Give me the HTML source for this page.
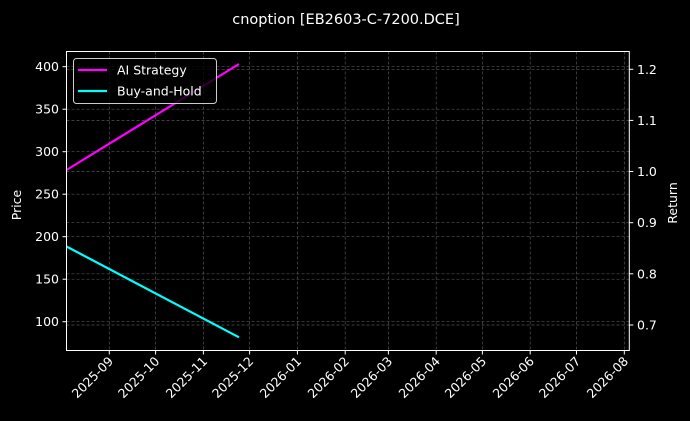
<!DOCTYPE html>
<html><head><meta charset="utf-8"><style>
html,body{margin:0;padding:0;background:#000;}
svg{display:block;font-family:"DejaVu Sans","Liberation Sans",sans-serif;}
</style></head><body>
<svg width="690" height="421" viewBox="0 0 690 421" xmlns="http://www.w3.org/2000/svg">
<rect width="690" height="421" fill="#000"/>
<text x="346" y="24" fill="#fff" font-size="14.5" text-anchor="middle">cnoption [EB2603-C-7200.DCE]</text>
<g stroke="#555" stroke-width="0.7" stroke-dasharray="3,2" fill="none">
<!-- vertical grid -->
<line x1="109.3" y1="51.5" x2="109.3" y2="350.5"/>
<line x1="155.6" y1="51.5" x2="155.6" y2="350.5"/>
<line x1="203.4" y1="51.5" x2="203.4" y2="350.5"/>
<line x1="249.6" y1="51.5" x2="249.6" y2="350.5"/>
<line x1="297.4" y1="51.5" x2="297.4" y2="350.5"/>
<line x1="345.2" y1="51.5" x2="345.2" y2="350.5"/>
<line x1="388.4" y1="51.5" x2="388.4" y2="350.5"/>
<line x1="436.2" y1="51.5" x2="436.2" y2="350.5"/>
<line x1="482.4" y1="51.5" x2="482.4" y2="350.5"/>
<line x1="530.2" y1="51.5" x2="530.2" y2="350.5"/>
<line x1="576.5" y1="51.5" x2="576.5" y2="350.5"/>
<line x1="624.3" y1="51.5" x2="624.3" y2="350.5"/>
<!-- left horizontal grid -->
<line x1="66.5" y1="66.7" x2="629.3" y2="66.7"/>
<line x1="66.5" y1="109.2" x2="629.3" y2="109.2"/>
<line x1="66.5" y1="151.7" x2="629.3" y2="151.7"/>
<line x1="66.5" y1="194.2" x2="629.3" y2="194.2"/>
<line x1="66.5" y1="236.7" x2="629.3" y2="236.7"/>
<line x1="66.5" y1="279.2" x2="629.3" y2="279.2"/>
<line x1="66.5" y1="321.7" x2="629.3" y2="321.7"/>
<!-- right horizontal grid -->
<line x1="66.5" y1="69.3" x2="629.3" y2="69.3"/>
<line x1="66.5" y1="120.4" x2="629.3" y2="120.4"/>
<line x1="66.5" y1="171.5" x2="629.3" y2="171.5"/>
<line x1="66.5" y1="222.7" x2="629.3" y2="222.7"/>
<line x1="66.5" y1="273.8" x2="629.3" y2="273.8"/>
<line x1="66.5" y1="325" x2="629.3" y2="325"/>
</g>
<!-- series -->
<line x1="66.5" y1="170" x2="239" y2="64" stroke="#ff00ff" stroke-width="2.2"/>
<line x1="66.5" y1="246.5" x2="239" y2="337.3" stroke="#00ffff" stroke-width="2.2"/>
<!-- axes box -->
<rect x="66.5" y="51.5" width="562.8" height="299" fill="none" stroke="#fff" stroke-width="1"/>
<!-- left ticks -->
<g stroke="#fff" stroke-width="1">
<line x1="62.5" y1="66.7" x2="66.5" y2="66.7"/>
<line x1="62.5" y1="109.2" x2="66.5" y2="109.2"/>
<line x1="62.5" y1="151.7" x2="66.5" y2="151.7"/>
<line x1="62.5" y1="194.2" x2="66.5" y2="194.2"/>
<line x1="62.5" y1="236.7" x2="66.5" y2="236.7"/>
<line x1="62.5" y1="279.2" x2="66.5" y2="279.2"/>
<line x1="62.5" y1="321.7" x2="66.5" y2="321.7"/>
<line x1="629.3" y1="69.3" x2="633.3" y2="69.3"/>
<line x1="629.3" y1="120.4" x2="633.3" y2="120.4"/>
<line x1="629.3" y1="171.5" x2="633.3" y2="171.5"/>
<line x1="629.3" y1="222.7" x2="633.3" y2="222.7"/>
<line x1="629.3" y1="273.8" x2="633.3" y2="273.8"/>
<line x1="629.3" y1="325" x2="633.3" y2="325"/>
<line x1="109.3" y1="350.5" x2="109.3" y2="354.5"/>
<line x1="155.6" y1="350.5" x2="155.6" y2="354.5"/>
<line x1="203.4" y1="350.5" x2="203.4" y2="354.5"/>
<line x1="249.6" y1="350.5" x2="249.6" y2="354.5"/>
<line x1="297.4" y1="350.5" x2="297.4" y2="354.5"/>
<line x1="345.2" y1="350.5" x2="345.2" y2="354.5"/>
<line x1="388.4" y1="350.5" x2="388.4" y2="354.5"/>
<line x1="436.2" y1="350.5" x2="436.2" y2="354.5"/>
<line x1="482.4" y1="350.5" x2="482.4" y2="354.5"/>
<line x1="530.2" y1="350.5" x2="530.2" y2="354.5"/>
<line x1="576.5" y1="350.5" x2="576.5" y2="354.5"/>
<line x1="624.3" y1="350.5" x2="624.3" y2="354.5"/>
</g>
<g fill="#fff" font-size="12.5" text-anchor="end">
<text x="59" y="71.2">400</text>
<text x="59" y="113.7">350</text>
<text x="59" y="156.2">300</text>
<text x="59" y="198.7">250</text>
<text x="59" y="241.2">200</text>
<text x="59" y="283.7">150</text>
<text x="59" y="326.2">100</text>
</g>
<g fill="#fff" font-size="12.5" text-anchor="start">
<text x="637" y="73.8">1.2</text>
<text x="637" y="124.9">1.1</text>
<text x="637" y="176">1.0</text>
<text x="637" y="227.2">0.9</text>
<text x="637" y="278.3">0.8</text>
<text x="637" y="329.5">0.7</text>
</g>
<g fill="#fff" font-size="12.5" text-anchor="end">
<text transform="translate(114,362) rotate(-45)">2025-09</text>
<text transform="translate(160.3,362) rotate(-45)">2025-10</text>
<text transform="translate(208.1,362) rotate(-45)">2025-11</text>
<text transform="translate(254.3,362) rotate(-45)">2025-12</text>
<text transform="translate(302.1,362) rotate(-45)">2026-01</text>
<text transform="translate(349.9,362) rotate(-45)">2026-02</text>
<text transform="translate(393.1,362) rotate(-45)">2026-03</text>
<text transform="translate(440.9,362) rotate(-45)">2026-04</text>
<text transform="translate(487.1,362) rotate(-45)">2026-05</text>
<text transform="translate(534.9,362) rotate(-45)">2026-06</text>
<text transform="translate(581.2,362) rotate(-45)">2026-07</text>
<text transform="translate(629,362) rotate(-45)">2026-08</text>
</g>
<text transform="translate(21,205) rotate(-90)" fill="#fff" font-size="12.5" text-anchor="middle">Price</text>
<text transform="translate(677,203) rotate(-90)" fill="#fff" font-size="12.5" text-anchor="middle">Return</text>
<!-- legend -->
<rect x="73.5" y="58.5" width="143" height="45" rx="3" fill="#000" fill-opacity="0.8" stroke="#ccc" stroke-width="1"/>
<line x1="78" y1="70" x2="107" y2="70" stroke="#ff00ff" stroke-width="2.2"/>
<line x1="78" y1="91" x2="107" y2="91" stroke="#00ffff" stroke-width="2.2"/>
<text x="117" y="74.5" fill="#fff" font-size="12.5">AI Strategy</text>
<text x="117" y="95.5" fill="#fff" font-size="12.5">Buy-and-Hold</text>
</svg>
</body></html>
